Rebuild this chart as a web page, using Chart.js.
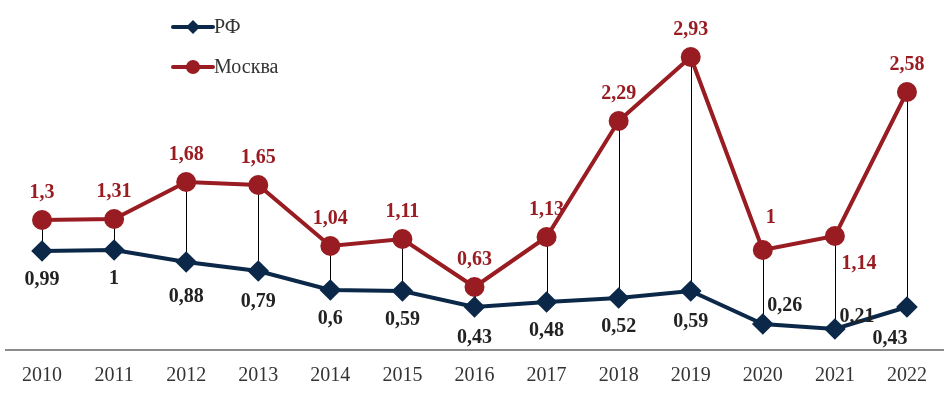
<!DOCTYPE html>
<html>
<head>
<meta charset="utf-8">
<script src="https://cdn.jsdelivr.net/npm/chart.js@4/dist/chart.umd.min.js"></script>
<style>
  html, body { margin: 0; padding: 0; background: #fff; }
  #wrap { width: 950px; height: 397px; position: relative; }
</style>
</head>
<body>
<div id="wrap"><canvas id="myChart"></canvas></div>
<script>
let years = ["2010","2011","2012","2013","2014","2015","2016","2017","2018","2019","2020","2021","2022"];
let rfValues = [0.99, 1, 0.88, 0.79, 0.6, 0.59, 0.43, 0.48, 0.52, 0.59, 0.26, 0.21, 0.43];
let moscowValues = [1.3, 1.31, 1.68, 1.65, 1.04, 1.11, 0.63, 1.13, 2.29, 2.93, 1, 1.14, 2.58];

let rfColor = "#0c2849";
let moscowColor = "#981c22";
let serif = "'Liberation Serif', 'Times New Roman', serif";

// label offsets (dx, dy) relative to point, per series
let rfOffsets = [[0,29],[0,29],[0,35],[0,31],[0,29],[0,29],[0,31],[0,29],[0,29],[0,31],[22,-18],[22,-12],[-17,32]];
let moscowOffsets = [[0,-27],[0,-27],[0,-27],[0,-27],[0,-27],[0,-27],[0,-27],[0,-27],[0,-27],[0,-27],[8,-32],[24,28],[0,-27]];

function fmt(v) { return String(v).replace(".", ","); }

const dropLines = {
  id: "dropLines",
  beforeDatasetsDraw(chart) {
    const ctx = chart.ctx;
    const a = chart.getDatasetMeta(0).data;
    const b = chart.getDatasetMeta(1).data;
    ctx.save();
    ctx.strokeStyle = "#000";
    ctx.lineWidth = 1;
    for (let i = 0; i < a.length; i++) {
      ctx.beginPath();
      ctx.moveTo(Math.round(a[i].x) + 0.5, a[i].y);
      ctx.lineTo(Math.round(b[i].x) + 0.5, b[i].y);
      ctx.stroke();
    }
    ctx.restore();
  }
};

const valueLabels = {
  id: "valueLabels",
  afterDatasetsDraw(chart) {
    const ctx = chart.ctx;
    ctx.save();
    ctx.font = "bold 20px " + serif;
    ctx.textAlign = "center";
    ctx.textBaseline = "middle";
    chart.getDatasetMeta(0).data.forEach((p, i) => {
      ctx.fillStyle = "#222";
      ctx.fillText(fmt(rfValues[i]), p.x + rfOffsets[i][0], p.y + rfOffsets[i][1]);
    });
    chart.getDatasetMeta(1).data.forEach((p, i) => {
      ctx.fillStyle = moscowColor;
      ctx.fillText(fmt(moscowValues[i]), p.x + moscowOffsets[i][0], p.y + moscowOffsets[i][1]);
    });
    ctx.restore();
  }
};

const sideLegend = {
  id: "sideLegend",
  afterDraw(chart) {
    const ctx = chart.ctx;
    const items = [
      { text: "РФ", color: rfColor, style: "rectRot", y: 27 },
      { text: "Москва", color: moscowColor, style: "circle", y: 67 }
    ];
    ctx.save();
    items.forEach(it => {
      ctx.strokeStyle = it.color;
      ctx.lineWidth = 4;
      ctx.lineCap = "round";
      ctx.beginPath();
      ctx.moveTo(173, it.y);
      ctx.lineTo(213, it.y);
      ctx.stroke();
      ctx.fillStyle = it.color;
      if (it.style === "circle") {
        ctx.beginPath();
        ctx.arc(193, it.y, 7, 0, Math.PI * 2);
        ctx.fill();
      } else {
        ctx.beginPath();
        ctx.moveTo(193, it.y - 7);
        ctx.lineTo(200, it.y);
        ctx.lineTo(193, it.y + 7);
        ctx.lineTo(186, it.y);
        ctx.closePath();
        ctx.fill();
      }
      ctx.fillStyle = "#333";
      ctx.font = "20px " + serif;
      ctx.textAlign = "left";
      ctx.textBaseline = "middle";
      ctx.fillText(it.text, 214, it.y + 1);
    });
    ctx.restore();
  }
};

new Chart("myChart", {
  type: "line",
  data: {
    labels: years,
    datasets: [{
      label: "РФ",
      data: rfValues,
      borderColor: rfColor,
      backgroundColor: rfColor,
      borderWidth: 4,
      pointStyle: "rectRot",
      pointRadius: 8,
      pointHoverRadius: 8,
      tension: 0
    }, {
      label: "Москва",
      data: moscowValues,
      borderColor: moscowColor,
      backgroundColor: moscowColor,
      borderWidth: 4,
      pointStyle: "circle",
      pointRadius: 8,
      pointHoverRadius: 8,
      tension: 0
    }]
  },
  options: {
    responsive: true,
    maintainAspectRatio: false,
    animation: false,
    layout: { autoPadding: false, padding: { left: 6, right: 7, top: 0, bottom: -5 } },
    plugins: {
      legend: { display: false },
      tooltip: { enabled: false }
    },
    scales: {
      x: {
        offset: true,
        grid: { display: false, drawTicks: false },
        border: { display: true, color: "#8c8c8c", width: 2 },
        ticks: { color: "#333", font: { family: serif, size: 20 }, padding: 14 }
      },
      y: {
        display: false,
        min: 0,
        max: 3.5
      }
    }
  },
  plugins: [dropLines, valueLabels, sideLegend]
});
</script>
</body>
</html>
